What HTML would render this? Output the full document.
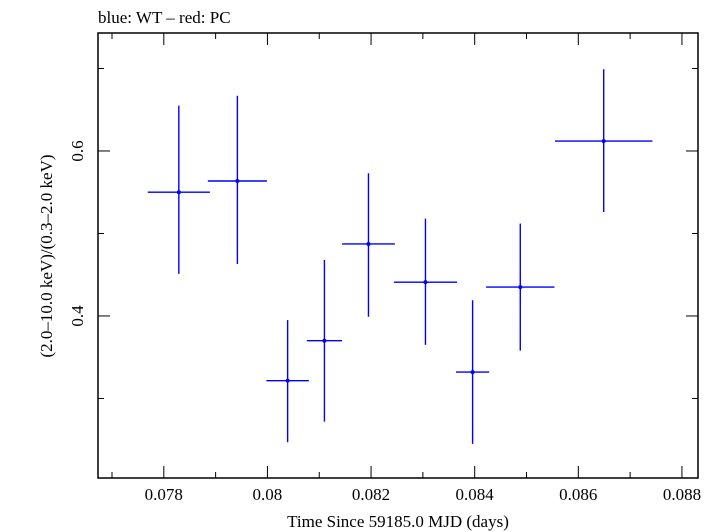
<!DOCTYPE html>
<html><head><meta charset="utf-8"><style>
body{margin:0;background:#fff}
svg{display:block;font-family:"Liberation Serif",serif}
</style></head><body>
<svg id="chart" width="717" height="532" viewBox="0 0 717 532">
<text x="98" y="23" font-size="17">blue: WT – red: PC</text>
<rect x="98" y="33" width="600" height="445" fill="none" stroke="#000" stroke-width="1.5"/>
<g id="axes"></g>
<g id="marks"></g>
<text x="398" y="527" font-size="17" text-anchor="middle">Time Since 59185.0 MJD (days)</text>
<text transform="translate(52,256) rotate(-90)" font-size="17" text-anchor="middle">(2.0–10.0 keV)/(0.3–2.0 keV)</text>
</svg>
<script>
const times=[0.07829,0.07942,0.08039,0.08110,0.08195,0.08305,0.08396,0.08488,0.08649];
const timeErr=[0.0006,0.00057,0.00041,0.00034,0.00051,0.00061,0.00032,0.00066,0.00094];
const ratios=[0.550,0.5636,0.3216,0.370,0.4873,0.441,0.332,0.435,0.612];
const ratioHi=[0.655,0.667,0.395,0.468,0.573,0.518,0.419,0.512,0.699];
const ratioLo=[0.451,0.463,0.247,0.272,0.399,0.365,0.245,0.358,0.526];
const xTicks=[0.078,0.08,0.082,0.084,0.086,0.088];
const xTickLabels=["0.078","0.08","0.082","0.084","0.086","0.088"];
const xMinor=[0.077,0.079,0.081,0.083,0.085,0.087];
const yTicks=[0.4,0.6];
const yTickLabels=["0.4","0.6"];
const yMinor=[0.3,0.5,0.7];
const L=98,R=698,T=33,B=478,x0=0.07673,x1=0.08831,y0=0.2036,y1=0.743;
const X=v=>L+(v-x0)/(x1-x0)*(R-L);
const Y=v=>B-(v-y0)/(y1-y0)*(B-T);
const NS="http://www.w3.org/2000/svg";
function mk(t,a,p){const e=document.createElementNS(NS,t);for(const k in a)e.setAttribute(k,a[k]);p.appendChild(e);return e;}
const ax=document.getElementById('axes'),mg=document.getElementById('marks');
xTicks.forEach((v,i)=>{const x=X(v);
let l=mk('line',{x1:x,x2:x,y1:B,y2:B-12,stroke:'#000'},ax);


l=mk('line',{x1:x,x2:x,y1:T,y2:T+12,stroke:'#000'},ax);


const t=mk('text',{x:x,y:B+22,'font-size':17,'text-anchor':'middle'},ax);t.textContent=xTickLabels[i];

});
xMinor.forEach(v=>{const x=X(v);
let l=mk('line',{x1:x,x2:x,y1:B,y2:B-6,stroke:'#000'},ax);


l=mk('line',{x1:x,x2:x,y1:T,y2:T+6,stroke:'#000'},ax);

});
yTicks.forEach((v,i)=>{const y=Y(v);
let l=mk('line',{x1:L,x2:L+12,y1:y,y2:y,stroke:'#000'},ax);


l=mk('line',{x1:R,x2:R-12,y1:y,y2:y,stroke:'#000'},ax);


const t=mk('text',{transform:`translate(${L-15},${y}) rotate(-90)`,'font-size':17,'text-anchor':'middle'},ax);t.textContent=yTickLabels[i];

});
yMinor.forEach(v=>{const y=Y(v);
let l=mk('line',{x1:L,x2:L+6,y1:y,y2:y,stroke:'#000'},ax);


l=mk('line',{x1:R,x2:R-6,y1:y,y2:y,stroke:'#000'},ax);

});
times.forEach((t,i)=>{const g=mk('g',{stroke:'#0000ff','stroke-width':1.4},mg);


mk('line',{x1:X(t-timeErr[i]),x2:X(t+timeErr[i]),y1:Y(ratios[i]),y2:Y(ratios[i])},g);
mk('line',{x1:X(t),x2:X(t),y1:Y(ratioLo[i]),y2:Y(ratioHi[i])},g);
mk('circle',{cx:X(t),cy:Y(ratios[i]),r:2,fill:'#0000ff',stroke:'none'},g);});
</script>
</body></html>
